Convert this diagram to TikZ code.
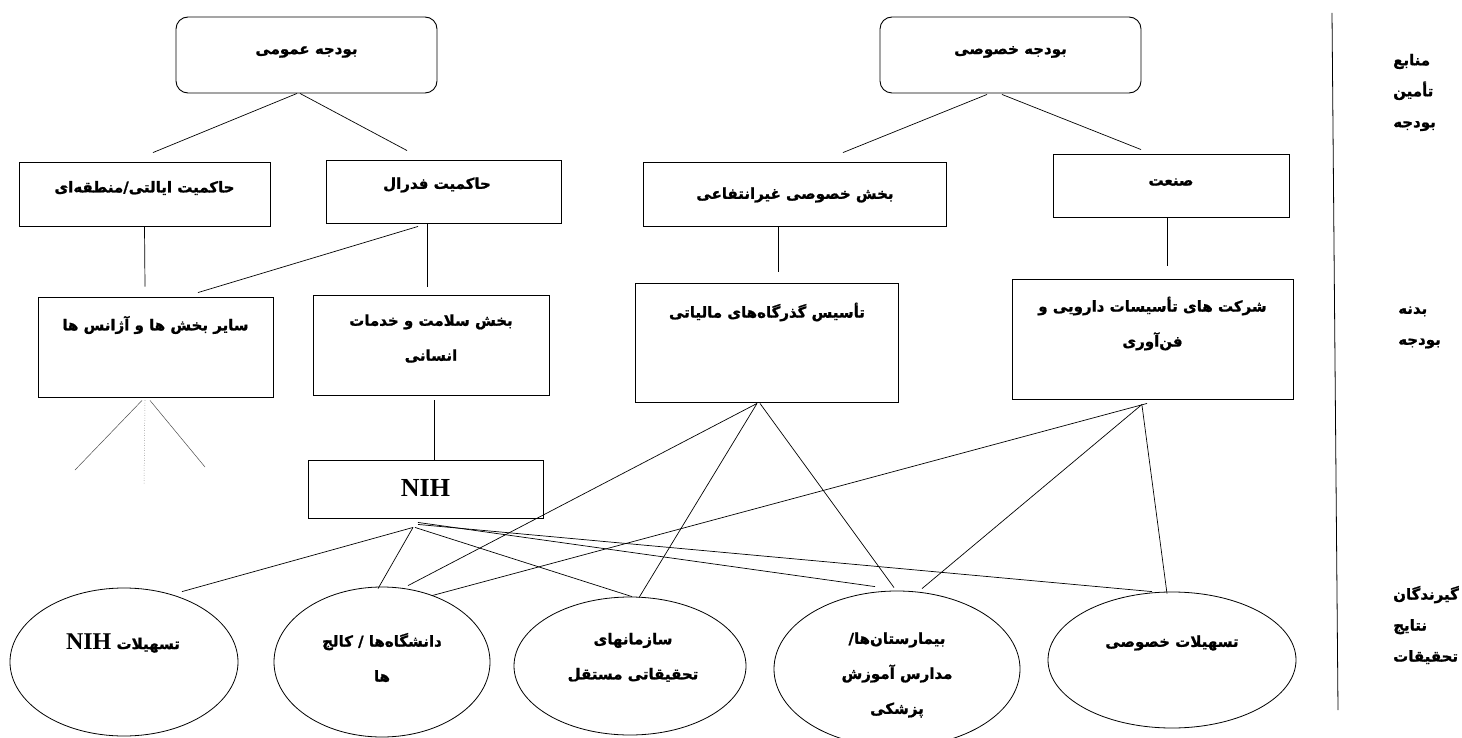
\documentclass[tikz,border=0pt]{standalone}
\usepackage{fontspec}
\setmainfont{Liberation Serif}
\newfontfamily\fafont[Script=Arabic, FakeBold=1.2]{DejaVu Sans Bold}
\TeXXeTstate=1
\usetikzlibrary{shapes.geometric}
\newcommand{\fatext}[1]{\beginR #1\endR}
\begin{document}
\begin{tikzpicture}[x=1pt,y=-1pt,
  box/.style={draw, line width=0.9pt, inner sep=0pt},
  rbox/.style={box, rounded corners=12pt},
  ell/.style={draw, ellipse, line width=0.8pt, inner sep=0pt},
  lbl/.style={font=\fafont\fontsize{15}{35}\selectfont, inner sep=0pt, align=center},
  side/.style={font=\fafont\fontsize{15}{31}\selectfont, inner sep=0pt, align=left, anchor=west},
  link/.style={line width=0.7pt},
  faint/.style={line width=0.5pt, draw=black!70},
]
\useasboundingbox (0,0) rectangle (1462,738);

% top row
\node[rbox, minimum width=261pt, minimum height=76pt] (pub) at (306.5,55) {};
\node[rbox, minimum width=261pt, minimum height=76pt] (priv) at (1010.5,55) {};
\node[lbl] (pub-t) at (306.5,52) {\fatext{بودجه عمومی}};
\node[lbl] (priv-t) at (1010.5,52) {\fatext{بودجه خصوصی}};

% second row
\node[box, minimum width=251pt, minimum height=64pt] (state) at (144.5,194) {};
\node[box, minimum width=235pt, minimum height=63pt] (fed) at (443.5,191.5) {};
\node[box, minimum width=303pt, minimum height=64pt] (nonprofit) at (794.5,194) {};
\node[box, minimum width=236pt, minimum height=63pt] (industry) at (1171,185.5) {};
\node[lbl] (state-t) at (144.5,188) {\fatext{حاکمیت ایالتی/منطقه^^^^200cای}};
\node[lbl] (fed-t) at (437,185) {\fatext{حاکمیت فدرال}};
\node[lbl] (nonprofit-t) at (795,195) {\fatext{بخش خصوصی غیرانتفاعی}};
\node[lbl] (industry-t) at (1171,182) {\fatext{صنعت}};

% third row
\node[box, minimum width=235pt, minimum height=100pt] (other) at (155.5,347) {};
\node[box, minimum width=236pt, minimum height=100pt] (hhs) at (431,345) {};
\node[box, minimum width=263pt, minimum height=119pt] (tax) at (766.5,342.5) {};
\node[box, minimum width=281pt, minimum height=120pt] (pharma) at (1152.5,339) {};
\node[lbl] (other-t) at (155.5,325) {\fatext{سایر بخش ها و آژانس ها}};
\node[lbl] (hhs-t) at (431,338.5) {\fatext{بخش سلامت و خدمات}\\\fatext{انسانی}};
\node[lbl] (tax-t) at (767,312) {\fatext{تأسیس گذرگاه^^^^200cهای مالیاتی}};
\node[lbl] (pharma-t) at (1152.5,323.5) {\fatext{شرکت های تأسیسات دارویی و}\\\fatext{فن^^^^200cآوری}};

% NIH
\node[box, minimum width=235pt, minimum height=58pt] (nih) at (425.5,489) {};
\node[inner sep=0pt, font=\bfseries\fontsize{26}{28}\selectfont] (nih-t) at (425.5,488) {NIH};

% ellipses
\node[ell, minimum width=228pt, minimum height=148pt] (nihf) at (124,662) {};
\node[ell, minimum width=216pt, minimum height=150pt] (univ) at (382,662) {};
\node[ell, minimum width=232pt, minimum height=138pt] (indep) at (630,666) {};
\node[ell, minimum width=246pt, minimum height=156pt] (hosp) at (897,669) {};
\node[ell, minimum width=248pt, minimum height=136pt] (privf) at (1172,660) {};
\node[lbl] (nihf-t) at (123,643) {\fatext{تسهیلات {\normalfont\bfseries\fontsize{24}{25}\selectfont\beginL NIH\endL}}};
\node[lbl] (univ-t) at (382,657.5) {\fatext{دانشگاه^^^^200cها / کالج}\\\fatext{ها}};
\node[lbl] (indep-t) at (633,657.5) {\fatext{سازمانهای}\\\fatext{تحقیقاتی مستقل}};
\node[lbl] (hosp-t) at (897,675) {\fatext{بیمارستان^^^^200cها/}\\\fatext{مدارس آموزش}\\\fatext{پزشکی}};
\node[lbl] (privf-t) at (1172,643) {\fatext{تسهیلات خصوصی}};

% side labels
\draw[line width=0.8pt] (1332,13) coordinate (sepTop) -- (1338,710) coordinate (sepBot);
\node[side] (lab1) at (1393,92.5) {\fatext{منابع}\\\fatext{تأمین}\\\fatext{بودجه}};
\node[side] (lab2) at (1398,327.5) {\fatext{بدنه}\\\fatext{بودجه}};
\node[side] (lab3) at (1393,625) {\fatext{گیرندگان}\\\fatext{نتایج}\\\fatext{تحقیقات}};

% connectors row1 -> row2
\draw[link] ([xshift=-9.5pt]pub.south) -- ([xshift=8.5pt,yshift=9pt]state.north);
\draw[link] ([xshift=-6.5pt]pub.south) -- ([xshift=-36.5pt,yshift=9pt]fed.north);
\draw[link] ([xshift=-23.5pt,yshift=-1pt]priv.south) -- ([xshift=48.5pt,yshift=9pt]nonprofit.north);
\draw[link] ([xshift=-8.5pt,yshift=-1pt]priv.south) -- ([xshift=-30pt,yshift=4pt]industry.north);

% row2 -> row3
\draw[link] (state.south) -- ([xshift=-10.5pt,yshift=10pt]other.north);
\draw[link] ([xshift=-25.5pt,yshift=-3pt]fed.south) -- ([xshift=42.5pt,yshift=4pt]other.north);
\draw[link] ([xshift=-16.5pt]fed.south) -- ([xshift=-4pt,yshift=8pt]hhs.north);
\draw[link] ([xshift=-16.5pt]nonprofit.south) -- ([xshift=11.5pt,yshift=11pt]tax.north);
\draw[link] ([xshift=-4pt]industry.south) -- ([xshift=14.5pt,yshift=13pt]pharma.north);
\draw[link] ([xshift=3pt,yshift=-5pt]hhs.south) -- ([xshift=8.5pt]nih.north);

% loose lines under "other"
\coordinate (o1) at (75,470);
\coordinate (o2) at (144,485);
\coordinate (o3) at (205,467);
\draw[faint] ([xshift=-13.5pt,yshift=-3pt]other.south) -- (o1);
\draw[faint, dotted] ([xshift=-10.5pt,yshift=-3pt]other.south) -- (o2);
\draw[faint] ([xshift=-5.5pt,yshift=-3pt]other.south) -- (o3);

% NIH -> recipients
\draw[link] ([xshift=-12.5pt,yshift=-9pt]nih.south) -- ([xshift=58pt,yshift=-4pt]nihf.north);
\draw[link] ([xshift=-12.5pt,yshift=-9pt]nih.south) -- ([xshift=-4pt,yshift=-2pt]univ.north);
\draw[link] ([xshift=-10.5pt,yshift=-9pt]nih.south) -- ([xshift=2pt]indep.north);
\draw[link] ([xshift=-7.5pt,yshift=-4pt]nih.south) -- ([xshift=-22pt,yshift=4pt]hosp.north);
\draw[link] ([xshift=-7.5pt,yshift=-6pt]nih.south) -- ([xshift=-20pt]privf.north);

% tax -> recipients
\draw[link] ([xshift=-9.5pt,yshift=-1pt]tax.south) -- ([xshift=26pt,yshift=1pt]univ.north);
\draw[link] ([xshift=-9.5pt,yshift=-1pt]tax.south) -- ([xshift=9pt,yshift=-1pt]indep.north);
\draw[link] ([xshift=-6.5pt,yshift=-1pt]tax.south) -- ([xshift=-3pt,yshift=3pt]hosp.north);

% pharma -> recipients
\draw[link] ([xshift=-5.5pt,yshift=-4pt]pharma.south) -- ([xshift=50pt,yshift=-9pt]univ.north);
\draw[link] ([xshift=-10.5pt,yshift=-5pt]pharma.south) -- ([xshift=25pt,yshift=2pt]hosp.north);
\draw[link] ([xshift=-10.5pt,yshift=-6pt]pharma.south) -- ([xshift=-5pt,yshift=-2pt]privf.north);
\end{tikzpicture}
\end{document}
